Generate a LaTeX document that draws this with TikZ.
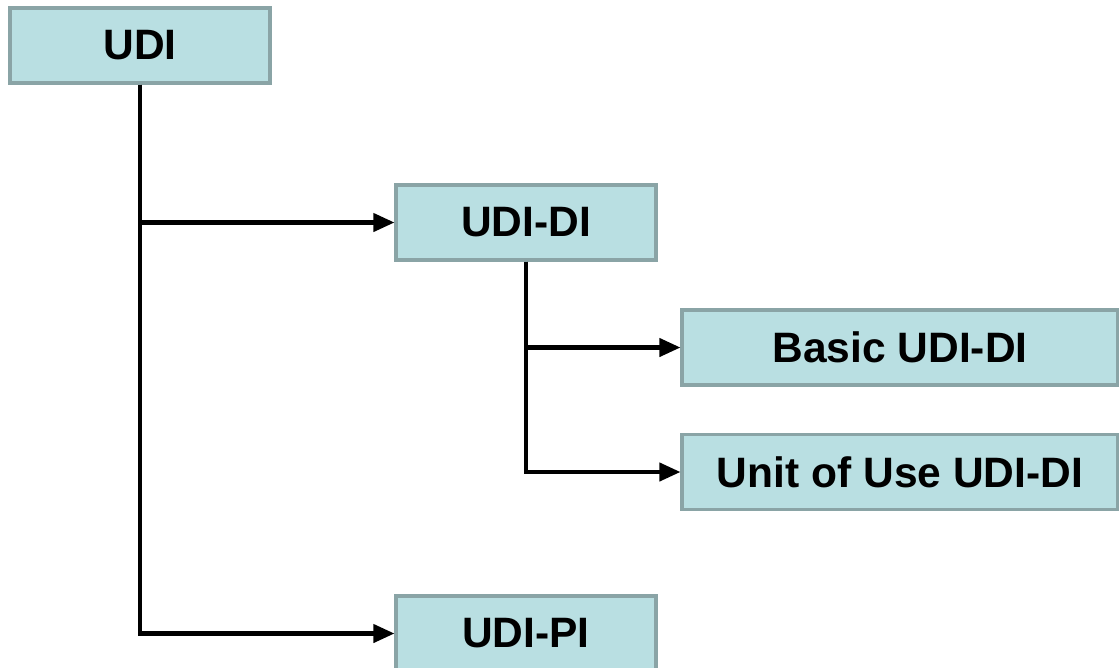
\documentclass[tikz,border=0pt]{standalone}
\usepackage{fontspec}
\setmainfont{Liberation Sans}
\usetikzlibrary{arrows.meta}
\definecolor{boxfill}{HTML}{B9DFE2}
\definecolor{boxline}{HTML}{8AA4A6}
\tikzset{
x=0.02cm, y=-0.02cm, % one unit per pixel, y pointing down
box/.style={draw=boxline, fill=boxfill, line width=1.8pt, minimum width=5.2cm, minimum height=1.5cm, font=\fontsize{24.2}{28}\selectfont\bfseries}, % the light blue boxes
widebox/.style={box, minimum width=8.72cm}, % boxes of the second level
link/.style={line width=2.3pt, -{Triangle[length=0.42cm, width=0.36cm]}}, % black connectors
}

\begin{document}
\begin{tikzpicture}
    \useasboundingbox (0,0) rectangle (1119,667);
    \clip (0,0) rectangle (1119,667);
    \node[box] (udi) at (140,45.5) {UDI};
    \node[box] (udidi) at (526,222.5) {UDI-DI};
    \node[widebox] (basic) at (900,347.5) {Basic UDI-DI};
    \node[widebox] (unit) at (900,472) {Unit of Use UDI-DI};
    \node[box] (udipi) at (526,633.5) {UDI-PI};
    \draw[link] (udi.south) |- (udidi.west);
    \draw[link] (udi.south) |- (udipi.west);
    \draw[link] (udidi.south) |- (basic.west);
    \draw[link] (udidi.south) |- (unit.west);
\end{tikzpicture}
\end{document}
